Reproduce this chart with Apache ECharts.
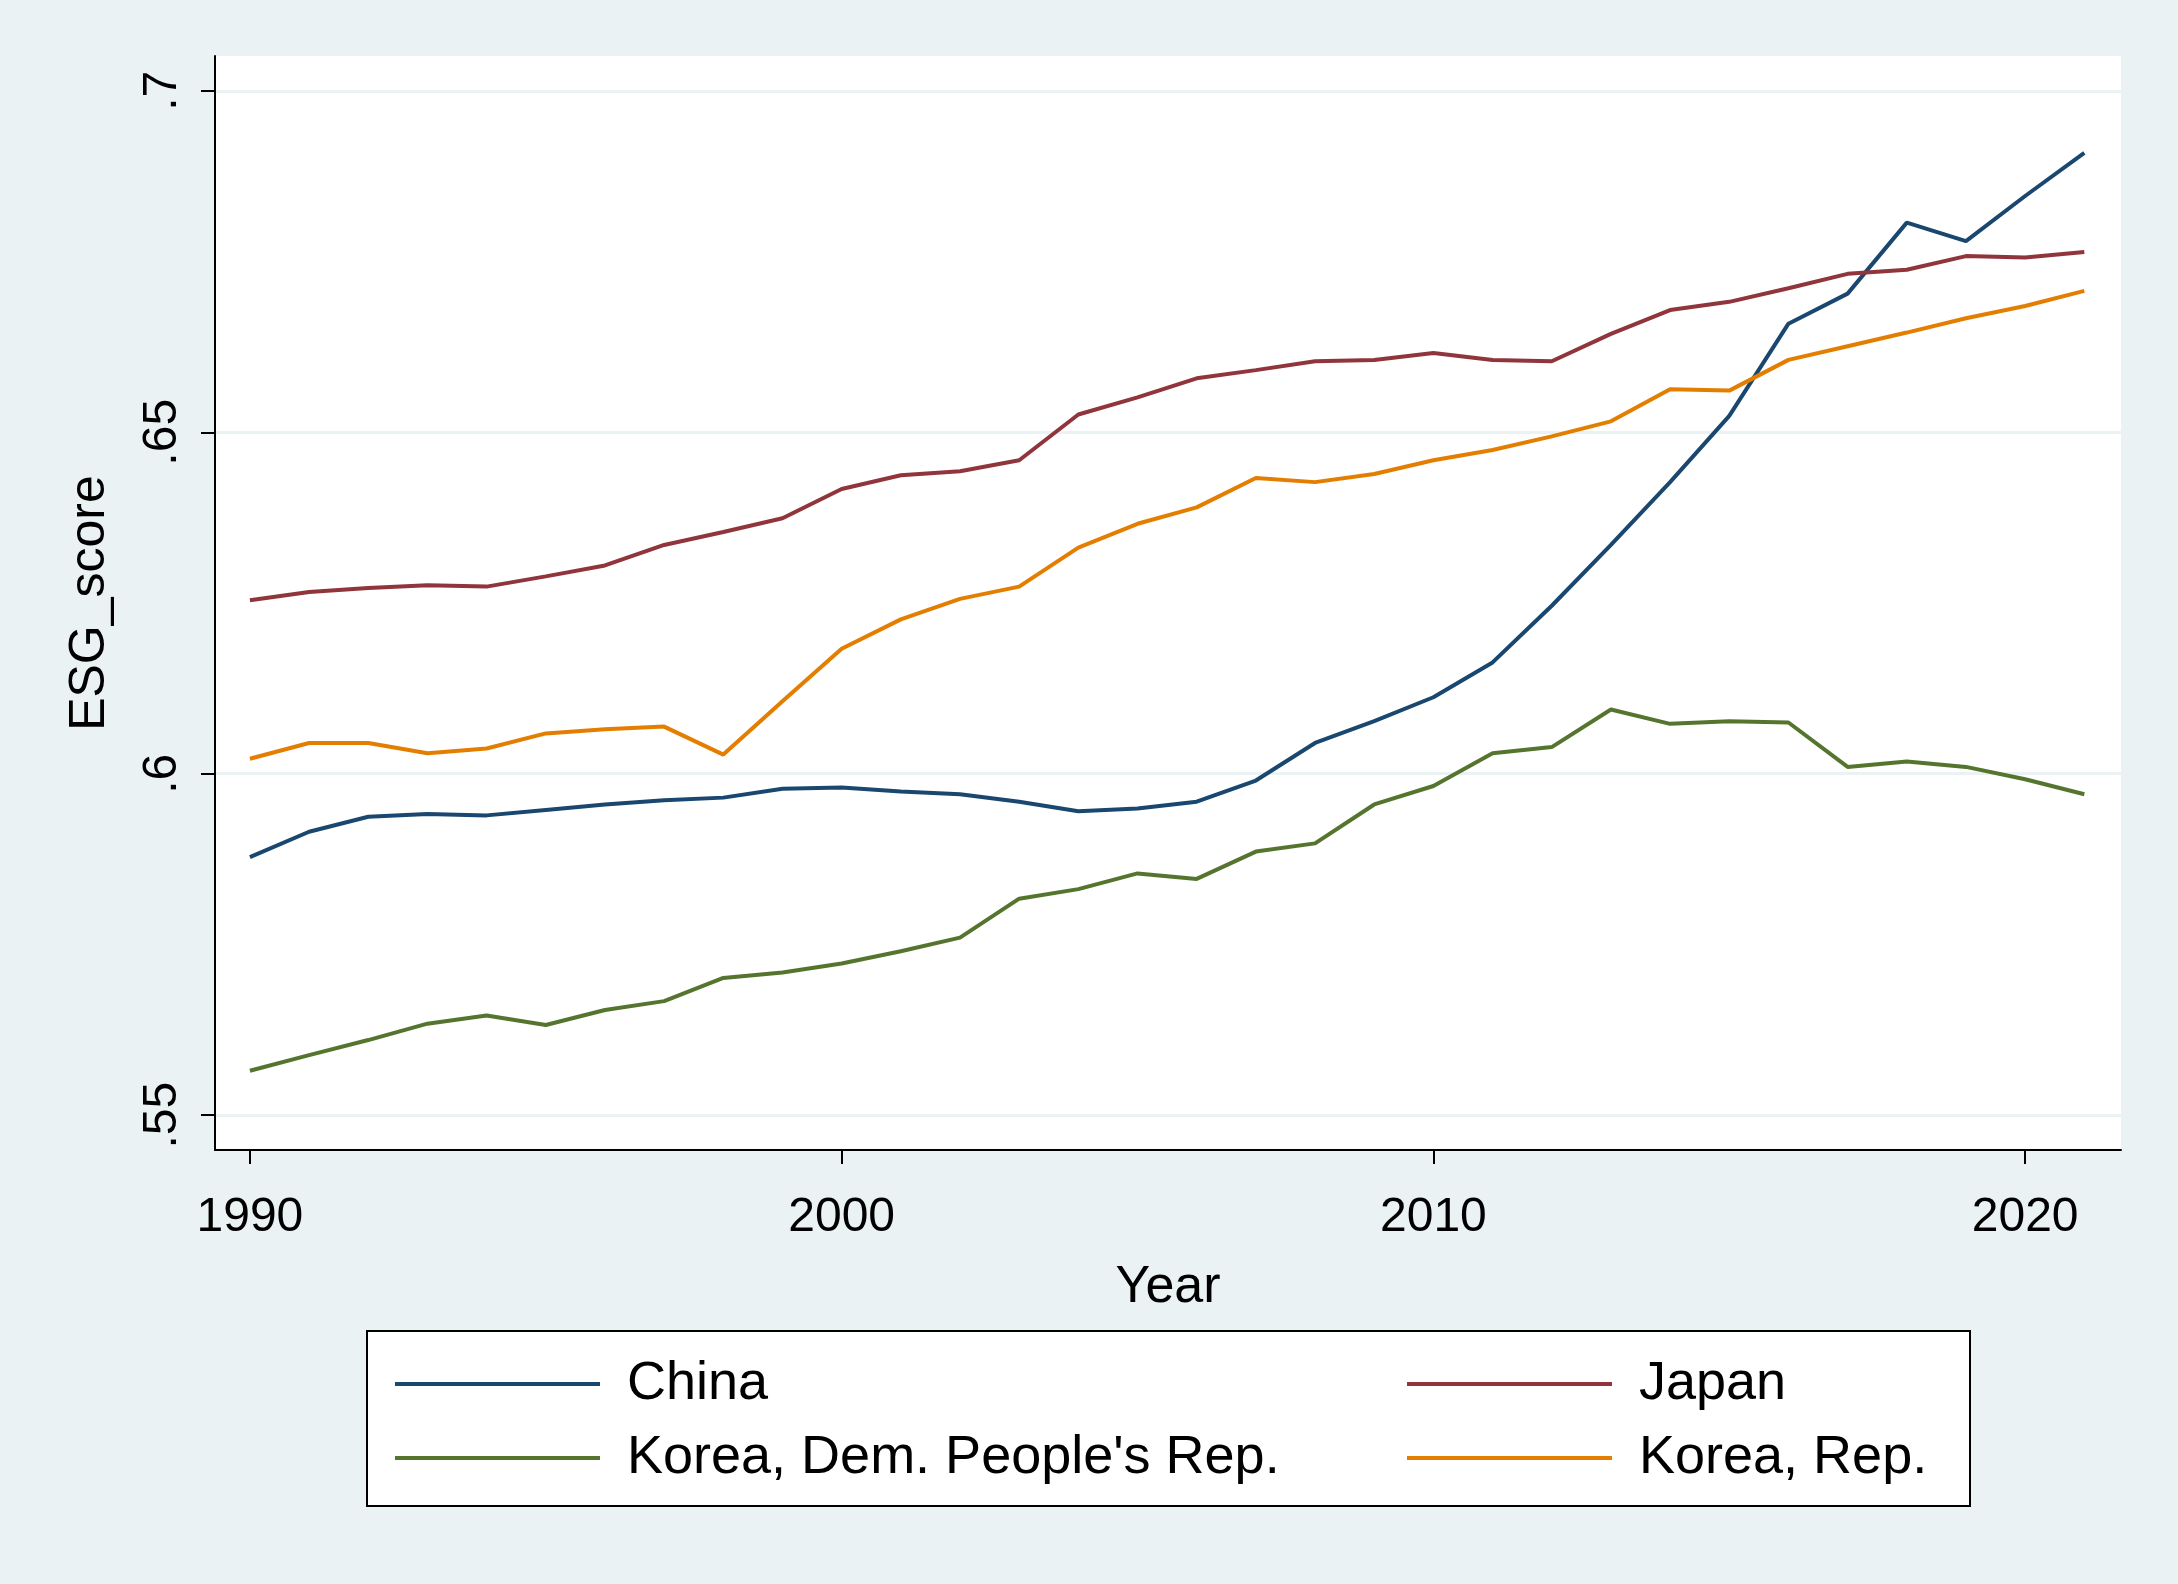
<!DOCTYPE html>
<html><head><meta charset="utf-8">
<script src="https://cdn.jsdelivr.net/npm/echarts@6/dist/echarts.min.js"></script>
<style>html,body{margin:0;background:#eaf2f3}#c{width:2178px;height:1584px}</style>
</head><body><div id="c"></div>
<script>
var years = [];
for (var y = 1990; y <= 2021; y++) years.push(y);
var china = [.5878,.5915,.5937,.5941,.5939,.5947,.5955,.5961,.5965,.5978,.598,.5974,.597,.5959,.5945,.5949,.5959,.599,.6045,.6077,.6112,.6163,.6246,.6335,.6427,.6524,.6659,.6703,.6807,.678,.6846,.6909];
var japan = [.6254,.6266,.6272,.6276,.6274,.6289,.6305,.6335,.6354,.6374,.6417,.6437,.6443,.6459,.6526,.6551,.6579,.6591,.6604,.6606,.6616,.6606,.6604,.6644,.6679,.6691,.6711,.6732,.6738,.6758,.6756,.6764];
var dprk = [.5565,.5588,.561,.5634,.5646,.5632,.5654,.5667,.5701,.5709,.5722,.574,.576,.5817,.5831,.5854,.5846,.5886,.5898,.5955,.5982,.603,.6039,.6094,.6073,.6077,.6075,.601,.6018,.601,.5992,.597];
var korea = [.6022,.6045,.6045,.603,.6037,.6059,.6065,.6069,.6028,.6106,.6183,.6226,.6256,.6274,.6331,.6366,.639,.6433,.6427,.6439,.6459,.6474,.6494,.6516,.6563,.6561,.6606,.6626,.6646,.6667,.6685,.6707];
var xTicks = [1990, 2000, 2010, 2020];
var yTicks = [.55, .6, .65, .7];
var names = ['China', 'Japan', "Korea, Dem. People's Rep.", 'Korea, Rep.'];
var colors = ['#1a476f', '#90353b', '#55752f', '#e37e00'];
var data = [china, japan, dprk, korea];

var chart = echarts.init(document.getElementById('c'));
var font = 'Liberation Sans, Arial, sans-serif';
var legendText = {fontSize: 54, color: '#000', fontFamily: font, padding: [0, 0, 0, 22]};
chart.setOption({
  backgroundColor: '#eaf2f3',
  animation: false,
  grid: {left: 215, right: 57, top: 56, bottom: 434, backgroundColor: '#fff', show: true, borderWidth: 0},
  xAxis: {
    type: 'value', min: 1989.41, max: 2021.62, interval: 10,
    name: 'Year', nameLocation: 'middle', nameGap: 112,
    nameTextStyle: {fontSize: 52, color: '#000', fontFamily: font},
    axisLine: {show: true, onZero: false, lineStyle: {color: '#000', width: 2}},
    axisTick: {show: true, length: 14, lineStyle: {color: '#000', width: 2}, customValues: xTicks},
    axisLabel: {fontSize: 48, color: '#000', fontFamily: font, margin: 44, customValues: xTicks,
      formatter: function (v) { return String(v); }},
    splitLine: {show: false}
  },
  yAxis: {
    type: 'value', min: .5449, max: .7051,
    name: 'ESG_score', nameLocation: 'middle', nameGap: 100,
    nameTextStyle: {fontSize: 50, color: '#000', fontFamily: font},
    axisLine: {show: true, onZero: false, lineStyle: {color: '#000', width: 2}},
    axisTick: {show: true, length: 14, lineStyle: {color: '#000', width: 2}, customValues: yTicks},
    axisLabel: {fontSize: 48, color: '#000', fontFamily: font, rotate: 90, margin: 28,
      customValues: yTicks,
      formatter: function (v) { return String(+v.toFixed(2)).replace(/^0/, ''); }},
    splitLine: {show: true, lineStyle: {color: '#eaf2f3', width: 3}},
    splitNumber: 3
  },
  legend: [
    {orient: 'vertical', left: 390, top: 1352, itemWidth: 205, itemHeight: 4, itemGap: 20,
      textStyle: legendText, icon: 'rect', data: [names[0], names[2]]},
    {orient: 'vertical', left: 1402, top: 1352, itemWidth: 205, itemHeight: 4, itemGap: 20,
      textStyle: legendText, icon: 'rect', data: [names[1], names[3]]}
  ],
  graphic: [{type: 'rect', shape: {x: 367, y: 1331, width: 1603, height: 175},
    style: {fill: '#fff', stroke: '#000', lineWidth: 2}, z: -1}],
  series: data.map(function (d, i) {
    return {
      name: names[i], type: 'line', symbol: 'none', color: colors[i],
      lineStyle: {width: 4, color: colors[i]},
      data: years.map(function (yr, j) { return [yr, d[j]]; })
    };
  })
});
</script></body></html>
